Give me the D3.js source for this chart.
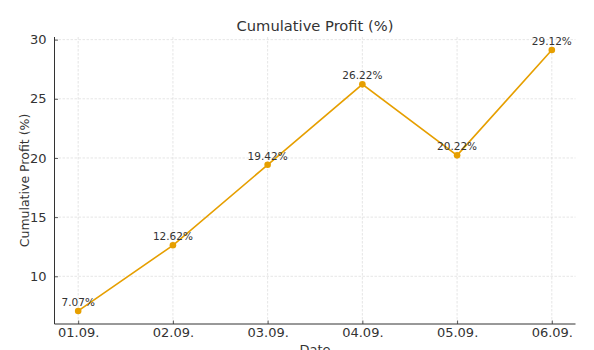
<!DOCTYPE html>
<html>
<head>
<meta charset="utf-8">
<script src="https://cdn.jsdelivr.net/npm/d3@7"></script>
<style>
  html, body { margin: 0; padding: 0; background: #fff; }
  svg { display: block; font-family: "DejaVu Sans", sans-serif; }
</style>
</head>
<body>
<svg id="chart" width="594" height="350"></svg>
<script>
// Daily cumulative profit
const dates = ["01.09.", "02.09.", "03.09.", "04.09.", "05.09.", "06.09."];
const profits = [7.07, 12.62, 19.42, 26.22, 20.22, 29.12];
const yTicks = [10, 15, 20, 25, 30];

const W = 594, H = 350;
const margin = { left: 54.5, right: 18.5, top: 37, bottom: 26 };
const svg = d3.select("#chart");

// index-based x scale with a 5% pad on each side
const n = dates.length;
const xPad = (n - 1) * 0.05;
const x = d3.scaleLinear()
  .domain([-xPad, n - 1 + xPad])
  .range([margin.left, W - margin.right]);

const yMin = d3.min(profits), yMax = d3.max(profits);
const yPad = (yMax - yMin) * 0.05;
const y = d3.scaleLinear()
  .domain([yMin - yPad, yMax + yPad])
  .range([H - margin.bottom, margin.top]);

const ink = "#333333";
const lineColor = "#E69F00";

// grid
const grid = svg.append("g");
grid.selectAll("line.gy").data(yTicks).join("line")
  .attr("x1", margin.left).attr("x2", W - margin.right)
  .attr("y1", d => y(d)).attr("y2", d => y(d))
  .attr("stroke", "#dadada").attr("stroke-width", 0.7)
  .attr("stroke-dasharray", "2.5,1.5");
grid.selectAll("line.gx").data(d3.range(n)).join("line")
  .attr("x1", d => x(d)).attr("x2", d => x(d))
  .attr("y1", margin.top).attr("y2", H - margin.bottom)
  .attr("stroke", "#dadada").attr("stroke-width", 0.7)
  .attr("stroke-dasharray", "2.5,1.5");

// axes (inward ticks)
const yAxis = d3.axisLeft(y).tickValues(yTicks).tickSizeInner(-3.5).tickSizeOuter(0).tickPadding(8);
const gy = svg.append("g").attr("transform", `translate(${margin.left},0)`).call(yAxis);
const xAxis = d3.axisBottom(x).tickValues(d3.range(n)).tickFormat(i => dates[i])
  .tickSizeInner(-3.5).tickSizeOuter(0).tickPadding(4);
const gx = svg.append("g").attr("transform", `translate(0,${H - margin.bottom})`).call(xAxis);

[gx, gy].forEach(g => {
  g.select(".domain").attr("stroke", ink).attr("stroke-width", 1)
    .attr("d", g === gy
      ? `M0,${margin.top}V${H - margin.bottom}`
      : `M${margin.left},0H${W - margin.right}`);
  g.selectAll(".tick line").attr("stroke", ink).attr("stroke-width", 0.8);
  g.selectAll(".tick text").attr("fill", ink).attr("font-size", 13)
    .attr("font-family", "DejaVu Sans, sans-serif");
});

// line + markers
svg.append("path")
  .datum(profits)
  .attr("fill", "none")
  .attr("stroke", lineColor)
  .attr("stroke-width", 1.6)
  .attr("d", d3.line().x((d, i) => x(i)).y(d => y(d)));

svg.selectAll("circle.pt").data(profits).join("circle")
  .attr("cx", (d, i) => x(i)).attr("cy", d => y(d))
  .attr("r", 3.3).attr("fill", lineColor);

// value labels
svg.selectAll("text.val").data(profits).join("text")
  .attr("x", (d, i) => x(i)).attr("y", d => y(d) - 5)
  .attr("text-anchor", "middle")
  .attr("font-size", 10.5).attr("fill", ink)
  .text(d => d.toFixed(2) + "%");

// title & axis labels
svg.append("text")
  .attr("x", (margin.left + W - margin.right) / 2).attr("y", 31)
  .attr("text-anchor", "middle").attr("font-size", 14.7).attr("fill", ink)
  .text("Cumulative Profit (%)");

svg.append("text")
  .attr("transform", `translate(29,${(margin.top + H - margin.bottom) / 2}) rotate(-90)`)
  .attr("text-anchor", "middle").attr("font-size", 12.5).attr("fill", ink)
  .text("Cumulative Profit (%)");

svg.append("text")
  .attr("x", (margin.left + W - margin.right) / 2).attr("y", 354)
  .attr("text-anchor", "middle").attr("font-size", 13).attr("fill", ink)
  .text("Date");
</script>
</body>
</html>
